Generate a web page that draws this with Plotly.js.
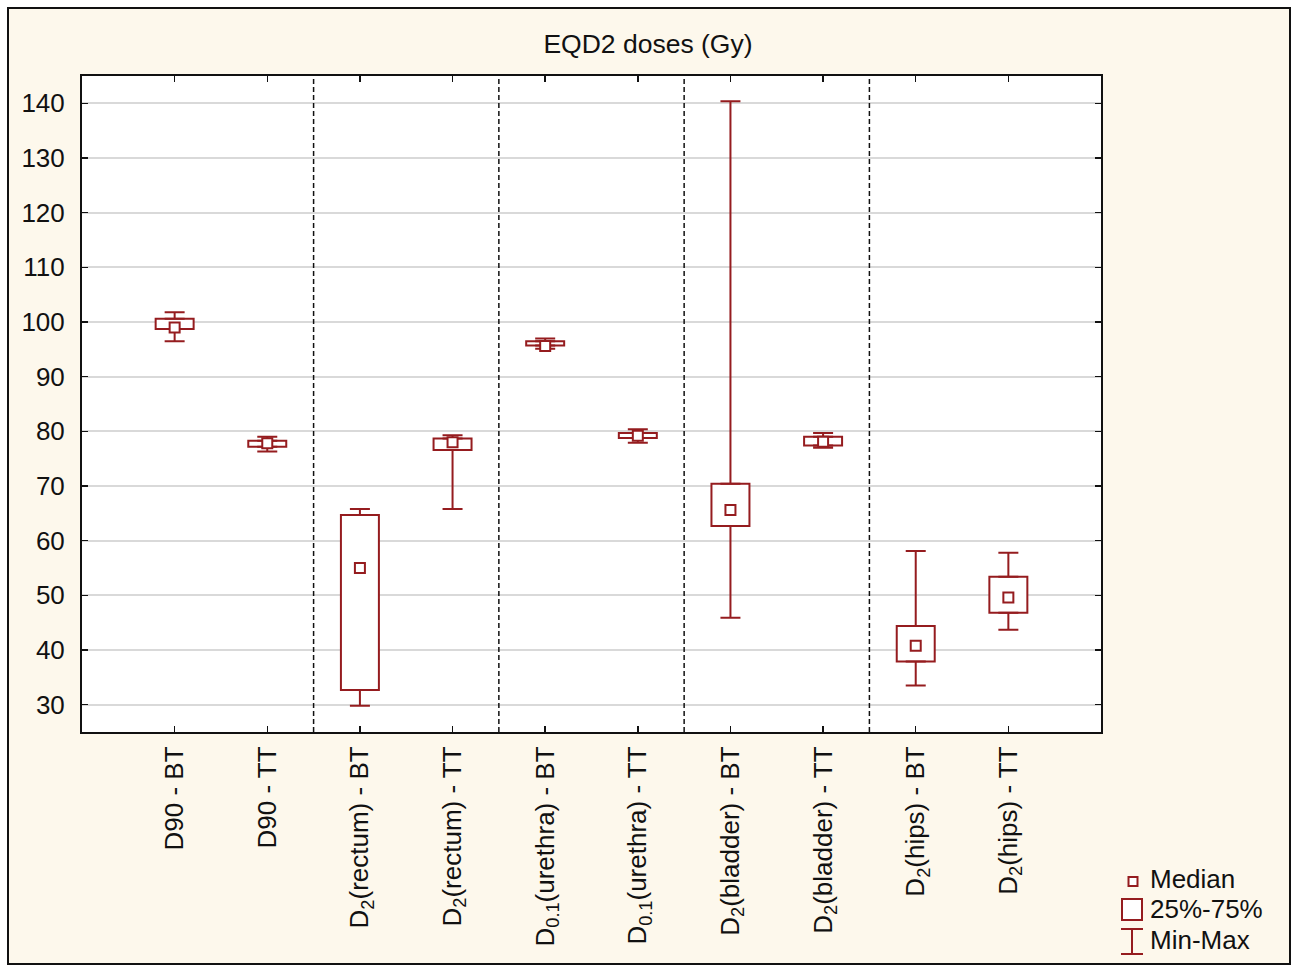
<!DOCTYPE html>
<html>
<head>
<meta charset="utf-8">
<script src="https://cdn.plot.ly/plotly-3.0.1.min.js"></script>
<style>
  html, body { margin: 0; padding: 0; background: #ffffff; }
  #frame { position: absolute; left: 7px; top: 7px; width: 1280px; height: 954px;
           border: 2.5px solid #111; background: #FDF8EC; }
  #chart { position: absolute; left: 0; top: 0; width: 1296px; height: 967px; }
</style>
</head>
<body>
<div id="frame"></div>
<div id="chart"></div>
<script>
// ---- data ----
const categories = [
  "D90 - BT", "D90 - TT",
  "D<sub>2</sub>(rectum) - BT", "D<sub>2</sub>(rectum) - TT",
  "D<sub>0.1</sub>(urethra) - BT", "D<sub>0.1</sub>(urethra) - TT",
  "D<sub>2</sub>(bladder) - BT", "D<sub>2</sub>(bladder) - TT",
  "D<sub>2</sub>(hips) - BT", "D<sub>2</sub>(hips) - TT"
];
const minValues    = [96.5, 76.3, 29.8, 65.8, 95.1, 77.9, 45.9, 77.0, 33.5, 43.7];
const q1Values     = [98.7, 77.2, 32.7, 76.6, 95.7, 78.8, 62.7, 77.4, 37.9, 46.8];
const medianValues = [99.0, 77.8, 55.0, 78.0, 95.6, 79.2, 65.6, 78.1, 40.8, 49.6];
const q3Values     = [100.6, 78.3, 64.7, 78.7, 96.5, 79.7, 70.4, 79.0, 44.4, 53.4];
const maxValues    = [101.8, 79.0, 65.8, 79.3, 97.0, 80.4, 140.4, 79.7, 58.1, 57.8];
const yTicks = [30, 40, 50, 60, 70, 80, 90, 100, 110, 120, 130, 140];
const legendLabels = ["Median", "25%-75%", "Min-Max"];
const titleText = "EQD2 doses (Gy)";

// ---- style ----
const RED = "#951c1f";
const FONT = "Liberation Sans, Arial, sans-serif";
const FS = 26;
const idx = categories.map((_, i) => i);

const boxTrace = {
  type: "bar", x: idx, base: q1Values,
  y: q3Values.map((v, i) => v - q1Values[i]),
  width: 0.41,
  marker: { color: "#ffffff", line: { color: RED, width: 2 } },
  showlegend: false, hoverinfo: "skip"
};
const upperWhisker = {
  type: "scatter", mode: "markers", x: idx, y: q3Values,
  marker: { size: 1, color: "rgba(0,0,0,0)" },
  error_y: { type: "data", symmetric: false,
    array: maxValues.map((v, i) => v - q3Values[i]),
    arrayminus: q3Values.map(() => 0),
    color: RED, thickness: 2, width: 10 },
  showlegend: false, hoverinfo: "skip"
};
const lowerWhisker = {
  type: "scatter", mode: "markers", x: idx, y: q1Values,
  marker: { size: 1, color: "rgba(0,0,0,0)" },
  error_y: { type: "data", symmetric: false,
    array: q1Values.map(() => 0),
    arrayminus: q1Values.map((v, i) => v - minValues[i]),
    color: RED, thickness: 2, width: 10 },
  showlegend: false, hoverinfo: "skip"
};
const medianTrace = {
  type: "scatter", mode: "markers", x: idx, y: medianValues,
  marker: { symbol: "square", size: 10, color: "#ffffff", line: { color: RED, width: 2 } },
  showlegend: false, hoverinfo: "skip"
};

// plot area in pixels -> helpers for paper coordinates (layout only)
const L = 82, R = 1101, T = 76, B = 732;
const px = p => (p - L) / (R - L);
const py = p => (B - p) / (B - T);

// group separators between pairs of categories
const shapes = [];
for (let g = 1; g < categories.length / 2; g++) {
  shapes.push({ type: "line", xref: "x", yref: "paper", x0: 2 * g - 0.5, x1: 2 * g - 0.5, y0: 0, y1: 1,
    line: { color: "#111", width: 1.5, dash: "5px,3px" } });
}
// manual legend symbols
shapes.push({ type: "rect", xref: "paper", yref: "paper", x0: px(1128.5), x1: px(1137.5), y0: py(886), y1: py(877),
  line: { color: RED, width: 2 }, fillcolor: "#ffffff" });
shapes.push({ type: "rect", xref: "paper", yref: "paper", x0: px(1122), x1: px(1142), y0: py(920), y1: py(899),
  line: { color: RED, width: 2 }, fillcolor: "#ffffff" });
shapes.push({ type: "line", xref: "paper", yref: "paper", x0: px(1132), x1: px(1132), y0: py(954), y1: py(929),
  line: { color: RED, width: 2 } });
shapes.push({ type: "line", xref: "paper", yref: "paper", x0: px(1121), x1: px(1143), y0: py(929), y1: py(929),
  line: { color: RED, width: 2 } });
shapes.push({ type: "line", xref: "paper", yref: "paper", x0: px(1121), x1: px(1143), y0: py(954), y1: py(954),
  line: { color: RED, width: 2 } });

const legendY = [879, 909, 940];
const annotations = legendLabels.map((t, i) => ({
  text: t, xref: "paper", yref: "paper", x: px(1148), y: py(legendY[i]),
  xanchor: "left", yanchor: "middle", showarrow: false,
  font: { family: FONT, size: FS, color: "#111" }
}));

const layout = {
  width: 1296, height: 967,
  paper_bgcolor: "rgba(0,0,0,0)", plot_bgcolor: "#ffffff",
  margin: { l: L, r: 1296 - R, t: T, b: 967 - B, pad: 0 },
  showlegend: false,
  barmode: "overlay",
  title: { text: titleText, x: 0.5, xref: "container", xanchor: "center",
    y: 1 - 44 / 967, yref: "container", yanchor: "middle",
    font: { family: FONT, size: FS + 0.5, color: "#111" } },
  xaxis: {
    range: [-1, categories.length], tickmode: "array", tickvals: idx, ticktext: categories,
    tickangle: -90, ticks: "inside", ticklen: 6, tickwidth: 1.5, tickcolor: "#111",
    showline: true, linecolor: "#111", linewidth: 2, mirror: "allticks",
    showgrid: false, zeroline: false, ticklabelstandoff: 2,
    tickfont: { family: FONT, size: FS, color: "#111" }
  },
  yaxis: {
    range: [25, 145], tickmode: "array", tickvals: yTicks,
    ticks: "inside", ticklen: 6, tickwidth: 1.5, tickcolor: "#111",
    showline: true, linecolor: "#111", linewidth: 2, mirror: "allticks",
    showgrid: true, gridcolor: "#d9d9d9", gridwidth: 2, zeroline: false,
    ticklabelstandoff: 10,
    tickfont: { family: FONT, size: FS, color: "#111" }
  },
  shapes: shapes,
  annotations: annotations
};

Plotly.newPlot("chart", [boxTrace, upperWhisker, lowerWhisker, medianTrace], layout,
  { displayModeBar: false, staticPlot: true });
</script>
</body>
</html>
